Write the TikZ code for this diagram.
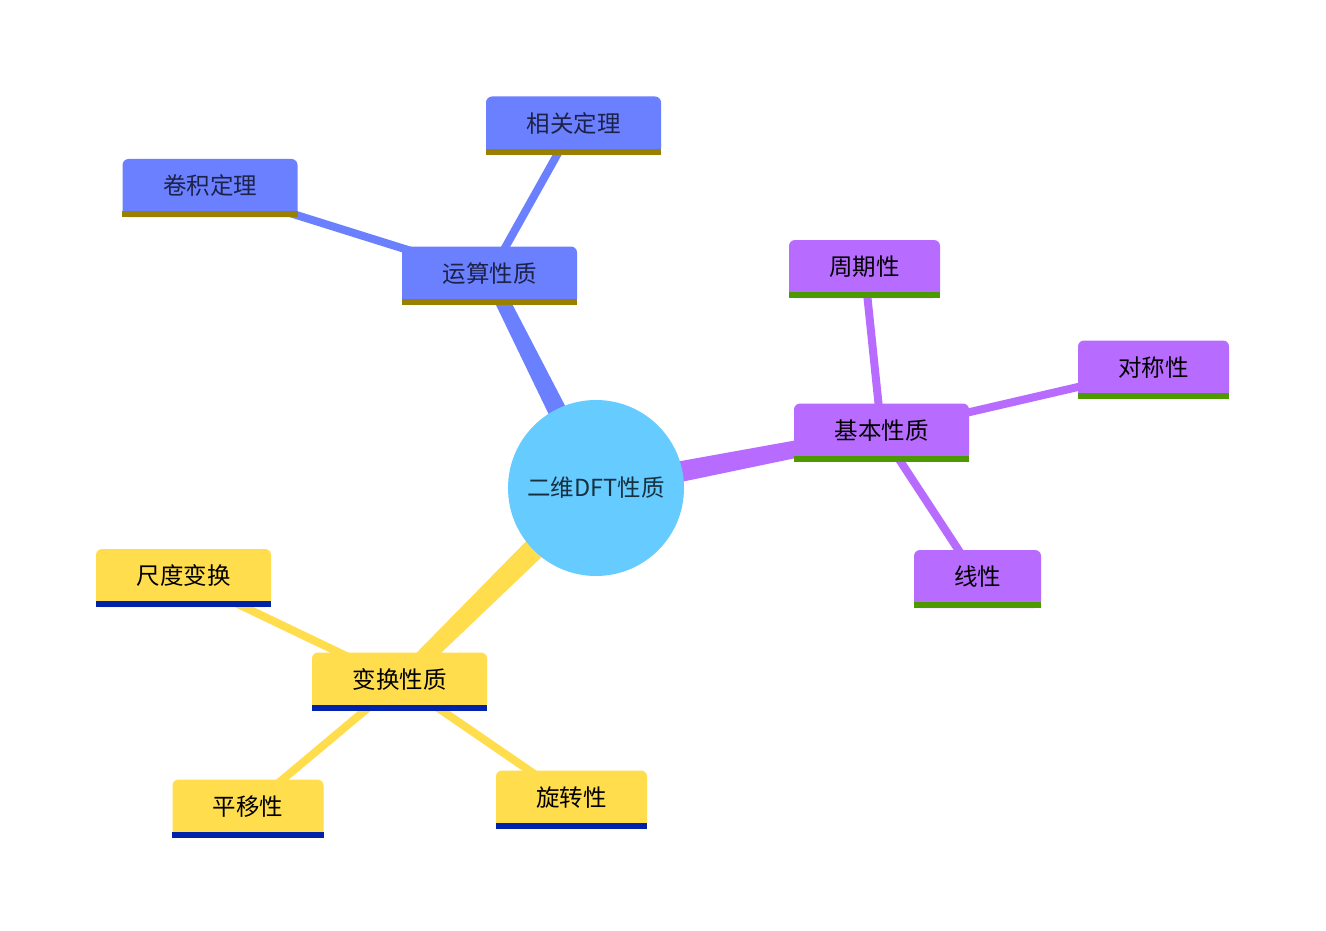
\documentclass[tikz,border=0pt]{standalone}
\usepackage{fontspec}
\setmainfont{Noto Sans CJK SC}
\usetikzlibrary{calc,backgrounds}
\definecolor{cblue}{HTML}{6B80FF}
\definecolor{cpurple}{HTML}{B86BFF}
\definecolor{cyellow}{HTML}{FFDD4D}
\definecolor{ccircle}{HTML}{66CCFF}
\definecolor{bolive}{HTML}{998000}
\definecolor{bgreen}{HTML}{4C9900}
\definecolor{bnavy}{HTML}{0022AA}
\definecolor{tnavy}{HTML}{1C2248}
\definecolor{tcircle}{HTML}{163040}
\tikzset{
  box/.style={rounded corners=6pt, inner sep=0pt, minimum height=58pt, font=\fontsize{23.5}{28}\selectfont, text depth=6pt},
  w4/.style={minimum width=175pt},
  w3/.style={minimum width=151pt},
  w2/.style={minimum width=127pt},
  bluebox/.style={box, fill=cblue, text=tnavy},
  purplebox/.style={box, fill=cpurple, text=black},
  yellowbox/.style={box, fill=cyellow, text=black},
  subedge/.style={line width=8pt},
}
\newcommand{\taper}[5]{%
  \fill[#1] let \p1=(#2), \p2=(#3), \n1={atan2(\y2-\y1,\x2-\x1)} in
    ($(\p1)+(\n1+90:#4)$) -- ($(\p2)+(\n1+90:#5)$) -- ($(\p2)+(\n1-90:#5)$) -- ($(\p1)+(\n1-90:#4)$) -- cycle;}
\newcommand{\nodebar}[2]{\fill[#1] ([yshift=6pt]#2.south west) rectangle (#2.south east);}
\begin{document}
\begin{tikzpicture}[x=1pt,y=-1pt]
\useasboundingbox (0,0) rectangle (1326,931);
% center
\node[circle, fill=ccircle, minimum size=176pt, inner sep=0pt, text=tcircle, font=\fontsize{23.5}{28}\selectfont] (c) at (596,488) {二维DFT性质};
% main branches
\node[bluebox,w4] (ys) at (489.5,275.5) {运算性质};
\node[purplebox,w4] (jb) at (881.5,432.5) {基本性质};
\node[yellowbox,w4] (bh) at (399.5,681.5) {变换性质};
% blue children
\node[bluebox,w4] (jj) at (210,188) {卷积定理};
\node[bluebox,w4] (xg) at (573.5,125.5) {相关定理};
% purple children
\node[purplebox,w3] (zq) at (864.5,269) {周期性};
\node[purplebox,w3] (dc) at (1153.5,369.5) {对称性};
\node[purplebox,w2] (xx) at (977.5,579) {线性};
% yellow children
\node[yellowbox,w4] (cd) at (183.5,578) {尺度变换};
\node[yellowbox,w3] (py) at (248,808.5) {平移性};
\node[yellowbox,w3] (xz) at (571.5,799.5) {旋转性};
% bars
\nodebar{bolive}{ys}\nodebar{bolive}{jj}\nodebar{bolive}{xg}
\nodebar{bgreen}{jb}\nodebar{bgreen}{zq}\nodebar{bgreen}{dc}\nodebar{bgreen}{xx}
\nodebar{bnavy}{bh}\nodebar{bnavy}{cd}\nodebar{bnavy}{py}\nodebar{bnavy}{xz}
\begin{scope}[on background layer]
\fill[white] (0,0) rectangle (1326,931);
\taper{cblue}{c.center}{ys.center}{10.5pt}{7pt}
\taper{cpurple}{c.center}{jb.center}{11.5pt}{7.5pt}
\taper{cyellow}{c.center}{bh.center}{12.5pt}{8pt}
\draw[subedge,cblue] (ys.center) -- (jj.center);
\draw[subedge,cblue] (ys.center) -- (xg.center);
\draw[subedge,cpurple] (jb.center) -- (zq.center);
\draw[subedge,cpurple] (jb.center) -- (dc.center);
\draw[subedge,cpurple] (jb.center) -- (xx.center);
\draw[subedge,cyellow] (bh.center) -- (cd.center);
\draw[subedge,cyellow] (bh.center) -- (py.center);
\draw[subedge,cyellow] (bh.center) -- (xz.center);
\end{scope}
\end{tikzpicture}
\end{document}
